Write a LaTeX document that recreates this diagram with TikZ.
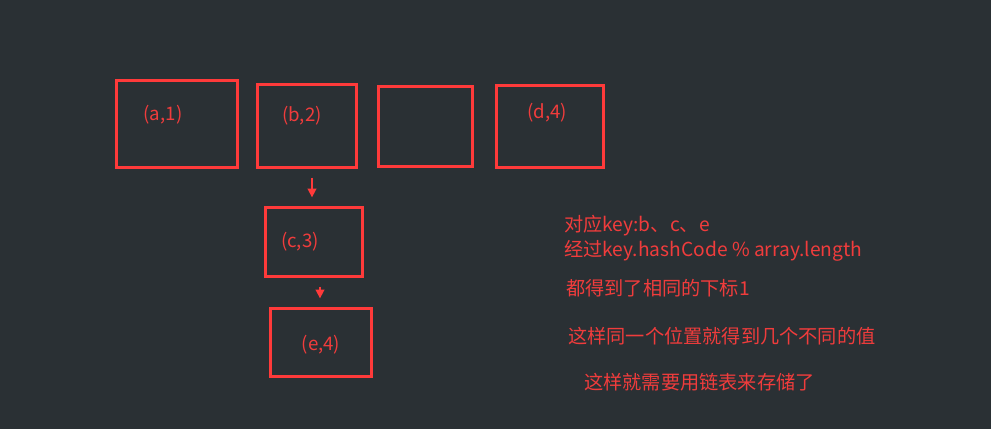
\documentclass[tikz,border=0pt]{standalone}
\usepackage{fontspec}
\setmainfont{Noto Sans CJK SC}
\usetikzlibrary{arrows.meta}
\definecolor{diagramBg}{HTML}{2A3034}
\definecolor{diagramSlot}{HTML}{FF3A3A}
\definecolor{diagramText}{HTML}{F03C3C}

\begin{document}
\begin{tikzpicture}[
    x=0.75pt,y=-0.75pt,>=Triangle,
    every node/.style={font=\fontsize{14pt}{16pt}\selectfont,text=diagramText,inner sep=0pt},
    slot/.style={draw=diagramSlot,line width=2.25pt},
    note/.style={anchor=west,font=\fontsize{14.4pt}{17pt}\selectfont,text height=0.8em,text depth=0.2em},
    link/.style={-{Triangle[length=6.5pt,width=6.5pt]},draw=diagramSlot,line width=1.2pt,shorten <=6.5pt,shorten >=6.5pt}
]
\fill[diagramBg] (0,0) rectangle (991,429);
\useasboundingbox (0,0) rectangle (991,429);
\node[slot,minimum width=121*0.75pt,minimum height=87*0.75pt] (slotA) at (177,124) {};
\node[slot,minimum width=99*0.75pt,minimum height=83*0.75pt] (slotB) at (307,126) {};
\node[slot,minimum width=94*0.75pt,minimum height=80*0.75pt] (slotEmpty) at (425.5,126.5) {};
\node[slot,minimum width=107*0.75pt,minimum height=82*0.75pt] (slotD) at (550,126.5) {};
\node[slot,minimum width=97*0.75pt,minimum height=69*0.75pt] (slotC) at (314,242) {};
\node[slot,minimum width=101*0.75pt,minimum height=68*0.75pt] (slotE) at (321,342.5) {};
\node (keyA) at (163,115) {(a,1)};
\node (keyB) at (302,116) {(b,2)};
\node (keyD) at (547,113) {(d,4)};
\node (keyC) at (300,242) {(c,3)};
\node (keyE) at (321,345) {(e,4)};
\draw[link] (slotB.south -| 312,0) -- (slotC.north -| 312,0);
\draw[link] (slotC.south -| 320,0) -- (slotE.north -| 320,0);
\node[note] (noteKeys) at (564,227) {对应key:b、c、e};
\node[note] (noteHash) at (564,252) {经过key.hashCode \% array.length};
\node[note] (noteIndex) at (566,291) {都得到了相同的下标1};
\node[note] (noteSame) at (568,339) {这样同一个位置就得到几个不同的值};
\node[note] (noteList) at (584,385) {这样就需要用链表来存储了};
\end{tikzpicture}
\end{document}
